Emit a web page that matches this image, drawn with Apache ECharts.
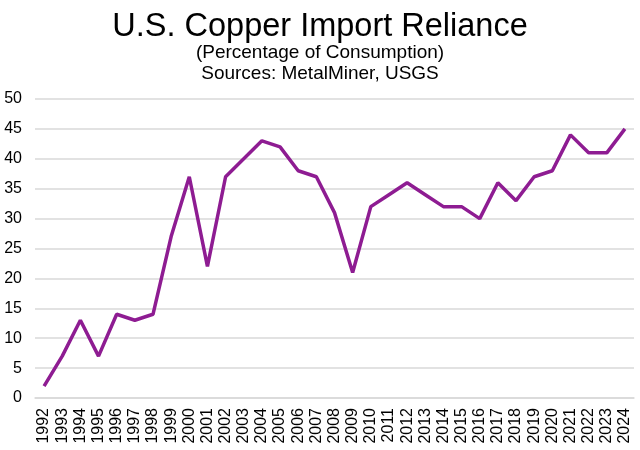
<!DOCTYPE html>
<html>
<head>
<meta charset="utf-8">
<script src="https://cdn.jsdelivr.net/npm/echarts@6/dist/echarts.min.js"></script>
<style>html,body{margin:0;padding:0;background:#fff}#c{width:640px;height:450px}</style>
</head>
<body>
<div id="c"></div>
<script>
const years = ['1992','1993','1994','1995','1996','1997','1998','1999','2000','2001','2002','2003','2004','2005','2006','2007','2008','2009','2010','2011','2012','2013','2014','2015','2016','2017','2018','2019','2020','2021','2022','2023','2024'];
const reliance = [2,7,13,7,14,13,14,27,37,22,37,40,43,42,38,37,31,21,32,34,36,34,32,32,30,36,33,37,38,44,41,41,45];
const titleText = 'U.S. Copper Import Reliance';
const subText = '(Percentage of Consumption)\nSources: MetalMiner, USGS';

const chart = echarts.init(document.getElementById('c'), null, {renderer:'canvas'});
const font = 'Liberation Sans, Arial, Helvetica, sans-serif';
chart.setOption({
  animation: false,
  backgroundColor: '#fff',
  title: {
    text: titleText,
    subtext: subText,
    left: 'center',
    top: 6,
    itemGap: -2,
    textStyle: {fontFamily: font, fontSize: 32.5, fontWeight: 'normal', color: '#000'},
    subtextStyle: {fontFamily: font, fontSize: 19, color: '#000', lineHeight: 21}
  },
  grid: {left: 35, right: 6, top: 99, bottom: 52, containLabel: false},
  xAxis: {
    type: 'category',
    data: years,
    boundaryGap: true,
    axisLine: {show: true, lineStyle: {color: '#d9d9d9', width: 1.5}},
    axisTick: {show: false},
    axisLabel: {rotate: 90, interval: 0, margin: 10, fontFamily: font, fontSize: 16, color: '#000'}
  },
  yAxis: {
    type: 'value',
    min: 0, max: 50, interval: 5,
    axisLine: {show: false},
    axisTick: {show: false},
    axisLabel: {margin: 13, fontFamily: font, fontSize: 16, color: '#000'},
    splitLine: {lineStyle: {color: '#d9d9d9', width: 1.5}}
  },
  series: [{
    type: 'line',
    data: reliance,
    symbol: 'none',
    lineStyle: {color: '#8E1C92', width: 3.5},
    itemStyle: {color: '#8E1C92'}
  }]
});
</script>
</body>
</html>
